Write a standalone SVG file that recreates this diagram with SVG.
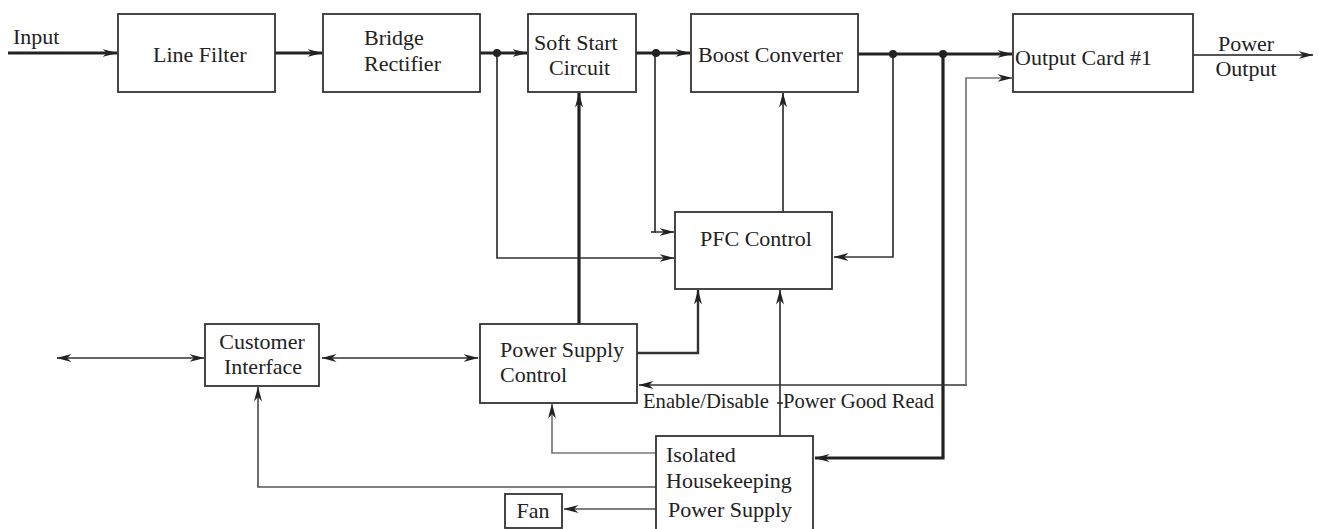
<svg xmlns="http://www.w3.org/2000/svg" width="1319" height="529" viewBox="0 0 1319 529">
<style>
.box{fill:#fff;stroke:#333;stroke-width:1.8}
.t{font-family:"Liberation Serif","Times New Roman",serif;font-size:22px;fill:#222}
.lbl{font-family:"Liberation Serif","Times New Roman",serif;font-size:20.6px;fill:#222}
.thick{fill:none;stroke:#222;stroke-width:3.2}
.mid{fill:none;stroke:#333;stroke-width:2.4}
.thin{fill:none;stroke:#333;stroke-width:1.7}
.gray{fill:none;stroke:#777;stroke-width:1.7}
.dot{fill:#222}
</style>
<defs>
<marker id="arr" markerUnits="userSpaceOnUse" markerWidth="16" markerHeight="10" refX="14.5" refY="4.5" orient="auto-start-reverse">
<path d="M0,0.5 L15,4.5 L0,8.5 L4.5,4.5 z" fill="#222"/>
</marker>
</defs>
<rect width="1319" height="529" fill="#fff"/>
<g id="connectors">
<path class="thick" d="M8,53 H117" marker-end="url(#arr)"/>
<path class="thick" d="M275,53 H322" marker-end="url(#arr)"/>
<path class="thick" d="M480,53 H527" marker-end="url(#arr)"/>
<path class="thick" d="M636,53 H690" marker-end="url(#arr)"/>
<path class="thick" d="M858,54 H1012" marker-end="url(#arr)"/>
<path class="mid" style="stroke:#555;stroke-width:2" d="M1193,55 H1313" marker-end="url(#arr)"/>
<path class="thin" d="M497,53 V258 H674" marker-end="url(#arr)"/>
<path class="thin" d="M655,53 V232 H674" marker-end="url(#arr)"/>
<path class="thin" d="M651,232 H656"/>
<path class="thick" d="M579,324 V93" marker-end="url(#arr)"/>
<path class="thin" d="M783,212 V93" marker-end="url(#arr)"/>
<path class="thin" d="M893,54 V257 H834" marker-end="url(#arr)"/>
<path class="thick" d="M943,54 V458 H815" marker-end="url(#arr)"/>
<path class="thin" d="M967,385 H639" marker-end="url(#arr)"/>
<path class="gray" d="M966,385 V78 H1012" marker-end="url(#arr)"/>
<path class="mid" d="M637,353 H698 V290" marker-end="url(#arr)"/>
<path class="thin" d="M780,436 V290" marker-end="url(#arr)"/>
<path class="thin" d="M57,358 H204" marker-start="url(#arr)" marker-end="url(#arr)"/>
<path class="thin" d="M322,358 H478" marker-start="url(#arr)" marker-end="url(#arr)"/>
<path class="thin" style="stroke:#555" d="M656,487 H258 V387" marker-end="url(#arr)"/>
<path class="gray" d="M656,453 H552 V404" marker-end="url(#arr)"/>
<path class="thin" style="stroke:#555" d="M656,509 H564" marker-end="url(#arr)"/>
<path class="thin" d="M777,403 H783"/>
<circle class="dot" cx="497" cy="53" r="4"/>
<circle class="dot" cx="656" cy="53" r="4"/>
<circle class="dot" cx="893" cy="54" r="4"/>
<circle class="dot" cx="943" cy="54" r="4"/>
</g>
<g id="line-filter">
<rect class="box" x="118" y="14" width="157" height="78"/>
<text class="t" x="153" y="62">Line Filter</text>
</g>
<g id="bridge-rectifier">
<rect class="box" x="323" y="14" width="157" height="78"/>
<text class="t" x="364" y="45">Bridge</text>
<text class="t" x="364" y="71">Rectifier</text>
</g>
<g id="soft-start">
<rect class="box" x="528" y="14" width="108" height="78"/>
<text class="t" x="534" y="50">Soft Start</text>
<text class="t" x="549" y="75">Circuit</text>
</g>
<g id="boost-converter">
<rect class="box" x="691" y="14" width="167" height="78"/>
<text class="t" x="698" y="62">Boost Converter</text>
</g>
<g id="output-card">
<rect class="box" x="1013" y="14" width="180" height="78"/>
<text class="t" x="1015" y="65">Output Card #1</text>
</g>
<g id="pfc-control">
<rect class="box" x="675" y="212" width="157" height="77"/>
<text class="t" x="700" y="246">PFC Control</text>
</g>
<g id="customer-interface">
<rect class="box" x="205" y="324" width="114" height="62"/>
<text class="t" x="262" y="349" text-anchor="middle">Customer</text>
<text class="t" x="263" y="374" text-anchor="middle">Interface</text>
</g>
<g id="power-supply-control">
<rect class="box" x="480" y="324" width="157" height="79"/>
<text class="t" x="500" y="357">Power Supply</text>
<text class="t" x="500" y="382">Control</text>
</g>
<g id="housekeeping">
<rect class="box" x="656" y="436" width="157" height="100"/>
<text class="t" x="666" y="462">Isolated</text>
<text class="t" x="666" y="488">Housekeeping</text>
<text class="t" x="668" y="517">Power Supply</text>
</g>
<g id="fan">
<rect class="box" x="505" y="494" width="57" height="34"/>
<text class="t" x="533" y="518" text-anchor="middle">Fan</text>
</g>
<g id="labels">
<text class="t" x="13" y="44">Input</text>
<text class="t" x="1246" y="51" text-anchor="middle">Power</text>
<text class="t" x="1246" y="76" text-anchor="middle">Output</text>
<text class="lbl" x="643" y="408">Enable/Disable</text>
<text class="lbl" x="783" y="408">Power Good Read</text>
</g>
</svg>
